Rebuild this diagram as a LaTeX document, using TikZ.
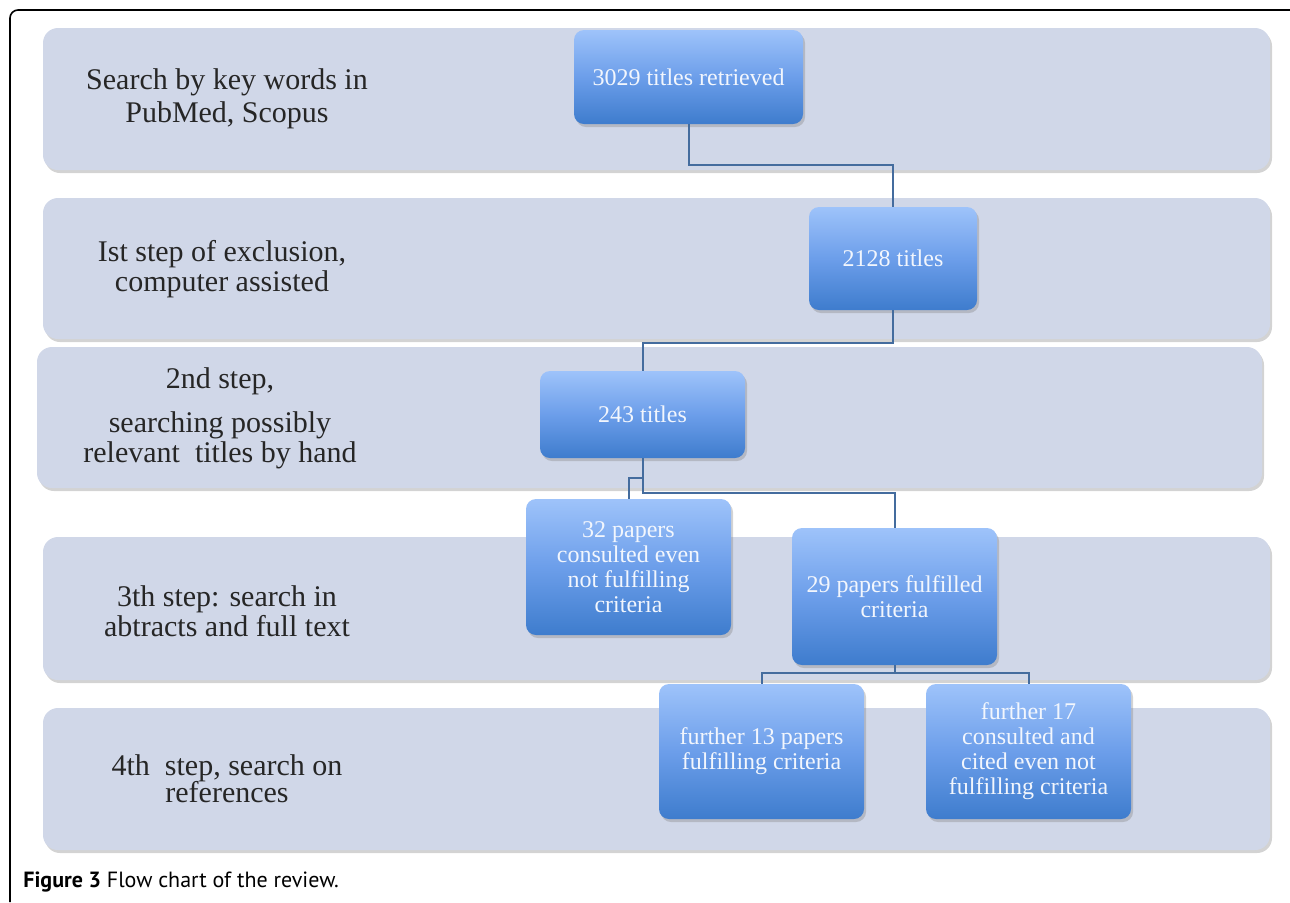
\documentclass[tikz,border=0pt]{standalone}
\usepackage{fontspec}
\setmainfont{Liberation Serif}
\newfontfamily\capfont{PT Sans}
\usetikzlibrary{shadows}

\definecolor{bandfill}{RGB}{208,215,232}
\definecolor{boxtop}{RGB}{158,195,250}
\definecolor{boxmid}{RGB}{108,158,234}
\definecolor{boxbot}{RGB}{62,124,205}
\definecolor{linkcol}{RGB}{68,108,158}
\definecolor{boxtext}{RGB}{242,246,253}

\begin{document}
\begin{tikzpicture}[x=0.5pt,y=-0.5pt,
    band/.style={fill=bandfill, rounded corners=7.5pt,
      drop shadow={shadow xshift=1pt, shadow yshift=-1.5pt, opacity=0.35}},
    steplabel/.style={align=center, text=black!85,
      font=\fontsize{15}{15}\selectfont},
    stage/.style={rectangle, rounded corners=5pt, top color=boxtop,
      bottom color=boxbot, middle color=boxmid, text=boxtext, align=center,
      inner sep=2pt, font=\fontsize{12}{12.5}\selectfont,
      drop shadow={shadow xshift=1pt, shadow yshift=-1.5pt, opacity=0.35}},
    link/.style={draw=linkcol, line width=1pt}]

  \useasboundingbox (0,0) rectangle (1290,902);

  % outer frame
  \draw[line width=0.8pt, rounded corners=4pt] (10,902) -- (10,10) -- (1290,10);

  % bands, one per step
  \path[band] (43,28) rectangle (1270,170);
  \path[band] (43,198) rectangle (1270,339);
  \path[band] (37,347) rectangle (1262,488);
  \path[band] (43,537) rectangle (1270,680);
  \path[band] (43,708) rectangle (1270,850);

  % step labels
  \node[steplabel] (lab1) at (227,99) {Search by key words in\\[1.5pt]PubMed, Scopus};
  \node[steplabel] (lab2) at (222,269) {Ist step of exclusion,\\computer assisted};
  \node[steplabel] (lab3) at (220,418) {2nd step,\\[7pt]searching possibly\\relevant\ \ titles by hand};
  \node[steplabel] (lab4) at (227,611) {3th step: search in\\abtracts and full text};
  \node[steplabel] (lab5) at (227,779) {4th\ \ step, search on\\[-1.5pt]references};

  % counts
  \node[stage, minimum width=114.5pt, minimum height=47pt] (retrieved) at (688.5,77) {3029 titles retrieved};
  \node[stage, minimum width=84pt, minimum height=51.5pt] (excluded) at (893,258.5) {2128 titles};
  \node[stage, minimum width=102.5pt, minimum height=43.5pt] (byhand) at (642.5,414.5) {243 titles};
  \node[stage, minimum width=102.5pt, minimum height=68pt] (consulted) at (628.5,567) {32 papers\\consulted even\\not fulfilling\\criteria};
  \node[stage, minimum width=102.5pt, minimum height=68.5pt] (fulfilled) at (894.5,596.5) {29 papers fulfilled\\criteria};
  \node[stage, minimum width=102.5pt, minimum height=67.5pt] (further13) at (761.5,751.5) {further 13 papers\\fulfilling criteria};
  \node[stage, minimum width=102.5pt, minimum height=67.5pt] (further17) at (1028.5,751.5) {further 17\\consulted and\\cited even not\\fulfilling criteria};

  % connectors
  \draw[link] (retrieved.south) -- ++(0,41) -| (excluded.north);
  \draw[link] (excluded.south) -- ++(0,33) -| (byhand.north);
  \draw[link] (byhand.south) -- ++(0,35) -| (fulfilled.north);
  \draw[link] (byhand.south) -- ++(0,20) -| (consulted.north);
  \draw[link] (fulfilled.south) -- ++(0,8) -| (further13.north);
  \draw[link] (fulfilled.south) -- ++(0,8) -| (further17.north);

  % caption
  \node[anchor=west, inner sep=0pt, font=\capfont\fontsize{11}{13}\selectfont] (caption) at (23,882)
    {\textbf{Figure 3} Flow chart of the review.};
\end{tikzpicture}
\end{document}
